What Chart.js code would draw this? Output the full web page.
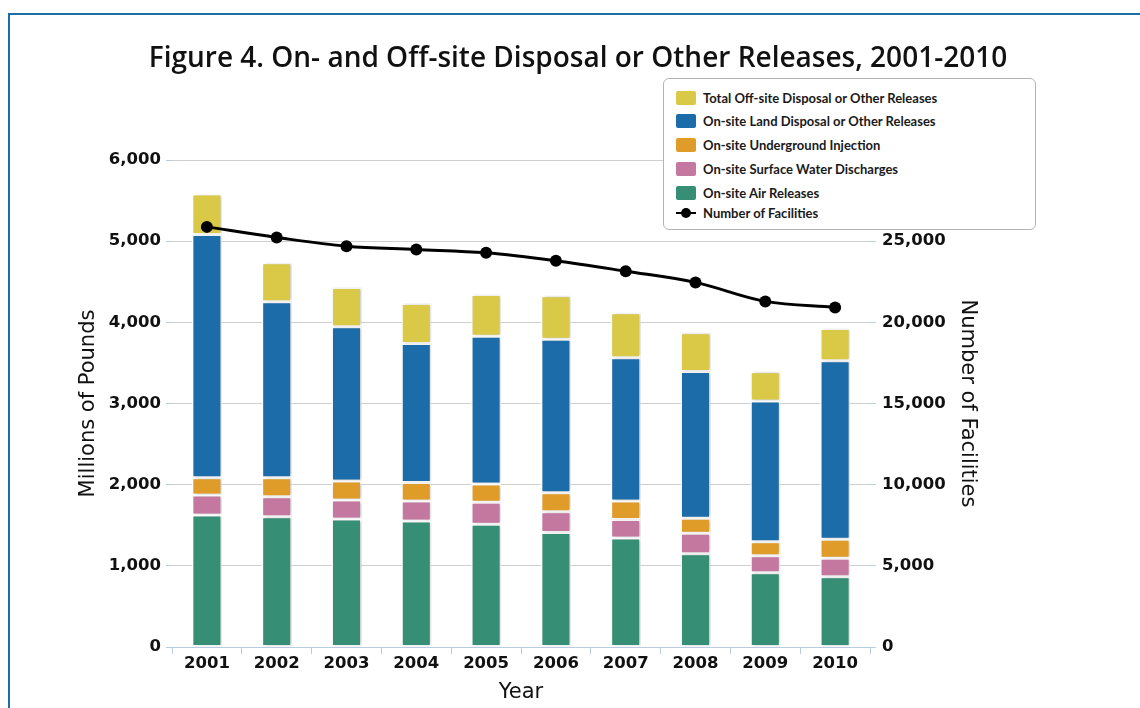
<!DOCTYPE html>
<html>
<head>
<meta charset="utf-8">
<script src="https://cdn.jsdelivr.net/npm/chart.js@4.4.1/dist/chart.umd.min.js"></script>
<style>
  html, body { margin: 0; padding: 0; background: #fff; overflow: hidden; }
  body { width: 1140px; height: 708px; position: relative; }
  #frame { position: absolute; left: 8px; top: 13px; width: 1200px; height: 800px; border: 2px solid #1a6ea8; }
  #wrap { position: absolute; left: 0; top: 0; width: 1140px; height: 708px; }
  #legend { position: absolute; left: 663px; top: 78px; width: 373px; height: 152px; background: #fff;
            border: 1.5px solid #b4b4b4; border-radius: 6px; box-sizing: border-box;
            font-family: Lato, "Open Sans", sans-serif; font-weight: bold; font-size: 13px; color: #1a1a1a; }
  .row { position: absolute; left: 12px; height: 16px; display: flex; align-items: center; }
  .sw { width: 20px; height: 14px; border-radius: 2px; margin-right: 7px; }
  .ln { width: 20px; height: 14px; margin-right: 7px; position: relative; }
  .ln:before { content: ""; position: absolute; left: 0; right: 0; top: 6px; height: 2.5px; background: #000; }
  .ln:after { content: ""; position: absolute; left: 5px; top: 2px; width: 10px; height: 10px; border-radius: 50%; background: #000; }
</style>
</head>
<body>
<div id="frame"></div>
<div id="wrap"><canvas id="c" width="1140" height="708"></canvas></div>
<div id="legend"></div>
<script>
const years = ['2001','2002','2003','2004','2005','2006','2007','2008','2009','2010'];
const airReleases      = [1626, 1605, 1576, 1552, 1511, 1412, 1342, 1149, 915, 866];
const surfaceWater     = [246, 246, 234, 246, 271, 254, 230, 251, 210, 226];
const undergroundInj   = [213, 234, 234, 230, 225, 234, 226, 185, 172, 234];
const landDisposal     = [2998, 2168, 1901, 1712, 1823, 1893, 1765, 1810, 1733, 2200];
const offsiteDisposal  = [497, 480, 485, 492, 513, 534, 554, 476, 361, 399];
const facilities       = [25880, 25230, 24690, 24490, 24280, 23790, 23150, 22460, 21290, 20920];
const leftTicks  = [0, 1000, 2000, 3000, 4000, 5000, 6000];
const rightTicks = [0, 5000, 10000, 15000, 20000, 25000];

const names = {
  off: 'Total Off-site Disposal or Other Releases',
  land: 'On-site Land Disposal or Other Releases',
  uic: 'On-site Underground  Injection',
  surf: 'On-site Surface Water Discharges',
  air: 'On-site Air Releases',
  fac: 'Number of Facilities'
};
const colors = { off: '#d9c947', land: '#1b6ca8', uic: '#e09c28', surf: '#c4779f', air: '#368e74' };

function barDs(label, data, color) {
  return { type: 'bar', label, data, backgroundColor: color, borderColor: '#ffffff', borderWidth: 1.5,
           borderSkipped: false, yAxisID: 'y', stack: 's', order: 1,
           barPercentage: 0.43, categoryPercentage: 1.0 };
}

const lightBlue = '#b9cde2';
const tickFont = { family: 'DejaVu Sans', size: 16.5, weight: 'bold' };
const titleFont = { family: 'DejaVu Sans', size: 21, weight: 'normal' };

const shadowPlugin = {
  id: 'barShadow',
  beforeDatasetDraw(chart, args) {
    if (args.meta.type === 'bar') {
      const ctx = chart.ctx; ctx.save();
      ctx.shadowColor = 'rgba(0,0,0,0.22)'; ctx.shadowBlur = 3; ctx.shadowOffsetX = 1.5; ctx.shadowOffsetY = 0;
    }
  },
  afterDatasetDraw(chart, args) {
    if (args.meta.type === 'bar') chart.ctx.restore();
  }
};

new Chart(document.getElementById('c'), {
  data: {
    labels: years,
    datasets: [
      { type: 'line', label: names.fac, data: facilities, yAxisID: 'y1', order: 0,
        borderColor: '#000', backgroundColor: '#000', borderWidth: 3, tension: 0.35,
        pointRadius: 6, pointBackgroundColor: '#000', pointBorderWidth: 0 },
      barDs(names.air, airReleases, colors.air),
      barDs(names.surf, surfaceWater, colors.surf),
      barDs(names.uic, undergroundInj, colors.uic),
      barDs(names.land, landDisposal, colors.land),
      barDs(names.off, offsiteDisposal, colors.off)
    ]
  },
  options: {
    responsive: false, animation: false, devicePixelRatio: 1,
    layout: { padding: { left: 16, right: 0, top: 0, bottom: 0 } },
    plugins: {
      legend: { display: false },
      tooltip: { enabled: false },
      title: { display: true, text: 'Figure 4. On- and Off-site Disposal or Other Releases, 2001-2010',
               color: '#111', font: { family: 'Open Sans', size: 28, weight: '600', lineHeight: 1.2 },
               padding: { top: 42.5, bottom: 83.9 } }
    },
    scales: {
      x: {
        stacked: true, offset: true,
        grid: { display: true, drawOnChartArea: false, offset: true, color: lightBlue, tickLength: 7 },
        border: { display: true, color: lightBlue, width: 1 },
        ticks: { font: tickFont, color: '#111', padding: 0, maxRotation: 0 },
        title: { display: true, text: 'Year', font: titleFont, color: '#111', padding: { top: 4, bottom: 3 } },
        afterFit(s) { s.height = 61; }
      },
      y: {
        stacked: true, position: 'left', min: 0, max: 6000,
        afterBuildTicks(s) { s.ticks = leftTicks.map(v => ({ value: v })); },
        grid: { color: '#cfcfcf', tickColor: lightBlue, tickLength: 6, lineWidth: 1 },
        border: { display: false },
        ticks: { font: tickFont, color: '#111', padding: 5,
                 callback: v => v.toLocaleString('en-US') },
        title: { display: true, text: 'Millions of Pounds', font: titleFont, color: '#111', padding: { top: 60, bottom: 4 } },
        afterFit(s) { s.width = 156; }
      },
      y1: {
        position: 'right', min: 0, max: 30000,
        afterBuildTicks(s) { s.ticks = rightTicks.map(v => ({ value: v })); },
        grid: { drawOnChartArea: false, tickColor: lightBlue, tickLength: 6 },
        border: { display: false },
        ticks: { font: tickFont, color: '#111', padding: 6,
                 callback: v => v.toLocaleString('en-US') },
        title: { display: true, text: 'Number of Facilities', font: titleFont, color: '#111', padding: { top: 160, bottom: 4 } },
        afterFit(s) { s.width = 270; }
      }
    }
  },
  plugins: [shadowPlugin]
});

// HTML legend built from the same names/colours
const legendRows = [
  ['off', 96.7], ['land', 120], ['uic', 144.3], ['surf', 168.3], ['air', 191.7], ['fac', 211.7]
];
const lg = document.getElementById('legend');
legendRows.forEach(([k, yc]) => {
  const r = document.createElement('div');
  r.className = 'row';
  r.style.top = (yc - 78 - 8) + 'px';
  const m = document.createElement('div');
  if (k === 'fac') { m.className = 'ln'; }
  else { m.className = 'sw'; m.style.background = colors[k]; }
  const t = document.createElement('span');
  t.textContent = names[k];
  r.appendChild(m); r.appendChild(t);
  lg.appendChild(r);
});
</script>
</body>
</html>
